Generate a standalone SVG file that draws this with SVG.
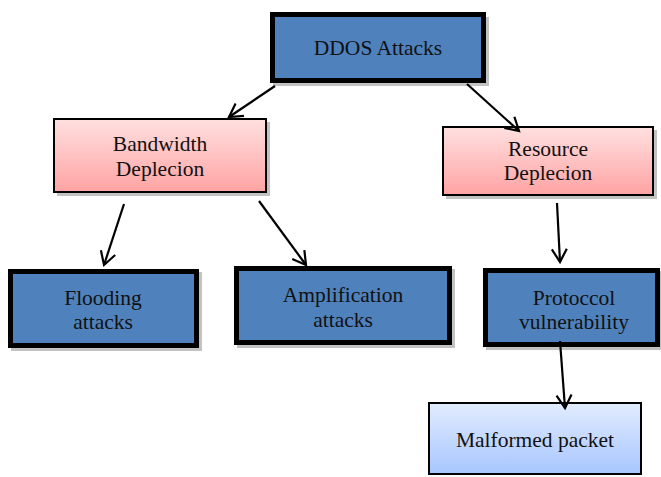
<svg xmlns="http://www.w3.org/2000/svg" width="661" height="477" viewBox="0 0 661 477">
<defs>
<linearGradient id="pink" x1="0" y1="0" x2="0" y2="1">
<stop offset="0" stop-color="#FFE0E0"/>
<stop offset="1" stop-color="#FFA3A3"/>
</linearGradient>
<linearGradient id="blue" x1="0" y1="0" x2="0" y2="1">
<stop offset="0" stop-color="#E2ECFF"/>
<stop offset="1" stop-color="#A7C6FF"/>
</linearGradient>
<marker id="arr" markerUnits="userSpaceOnUse" markerWidth="22" markerHeight="22" viewBox="0 0 22 22" refX="16" refY="11" orient="auto">
<path d="M3,3.5 L16,11 L3,18.5" fill="none" stroke="#000" stroke-width="2.2" stroke-linejoin="miter"/>
</marker>
</defs>
<style>
.thick{fill:#4F81BD;stroke:#000;stroke-width:5}
.pink{fill:url(#pink);stroke:#000;stroke-width:2}
.lblue{fill:url(#blue);stroke:#000;stroke-width:2}
.shadow{fill:#9a9a9a;opacity:0.6}
text{font-family:"Liberation Serif","Times New Roman",serif;font-size:21.5px;fill:#111;text-anchor:middle}
.conn line{stroke:#000;stroke-width:2.2;marker-end:url(#arr)}
</style>
<rect width="661" height="477" fill="#fff"/>
<g id="ddos">
<rect class="shadow" x="273" y="17" width="216" height="69"/>
<rect class="thick" x="272.5" y="14.5" width="211" height="66"/>
<text x="378" y="55">DDOS Attacks</text>
</g>
<g id="bandwidth">
<rect class="shadow" x="57" y="122" width="213" height="74"/>
<rect class="pink" x="54" y="119" width="212" height="73"/>
<text x="160" y="151">Bandwidth</text>
<text x="160" y="176">Deplecion</text>
</g>
<g id="resource">
<rect class="shadow" x="446" y="130" width="211" height="69"/>
<rect class="pink" x="443" y="127" width="210" height="68"/>
<text x="548" y="156">Resource</text>
<text x="548" y="180">Deplecion</text>
</g>
<g id="flooding">
<rect class="shadow" x="11" y="272" width="191" height="79"/>
<rect class="thick" x="10.5" y="271.5" width="186" height="74"/>
<text x="103" y="305">Flooding</text>
<text x="103" y="329">attacks</text>
</g>
<g id="amplification">
<rect class="shadow" x="237" y="269" width="218" height="79"/>
<rect class="thick" x="236.5" y="268.5" width="213" height="74"/>
<text x="343" y="302">Amplification</text>
<text x="343" y="327">attacks</text>
</g>
<g id="protocol">
<rect class="shadow" x="486" y="271" width="177" height="79"/>
<rect class="thick" x="485.5" y="270.5" width="172" height="74"/>
<text x="574" y="305">Protoccol</text>
<text x="574" y="329">vulnerability</text>
</g>
<g id="malformed">
<rect class="lblue" x="429" y="403" width="212" height="71"/>
<text x="535" y="447">Malformed packet</text>
</g>
<g id="connectors" class="conn">
<line x1="275" y1="86" x2="229" y2="117"/>
<line x1="467" y1="84" x2="519" y2="131"/>
<line x1="124" y1="204" x2="104" y2="265"/>
<line x1="259" y1="201" x2="306" y2="265"/>
<line x1="557" y1="203" x2="560" y2="262"/>
<line x1="560" y1="341" x2="565" y2="408"/>
</g>
</svg>
